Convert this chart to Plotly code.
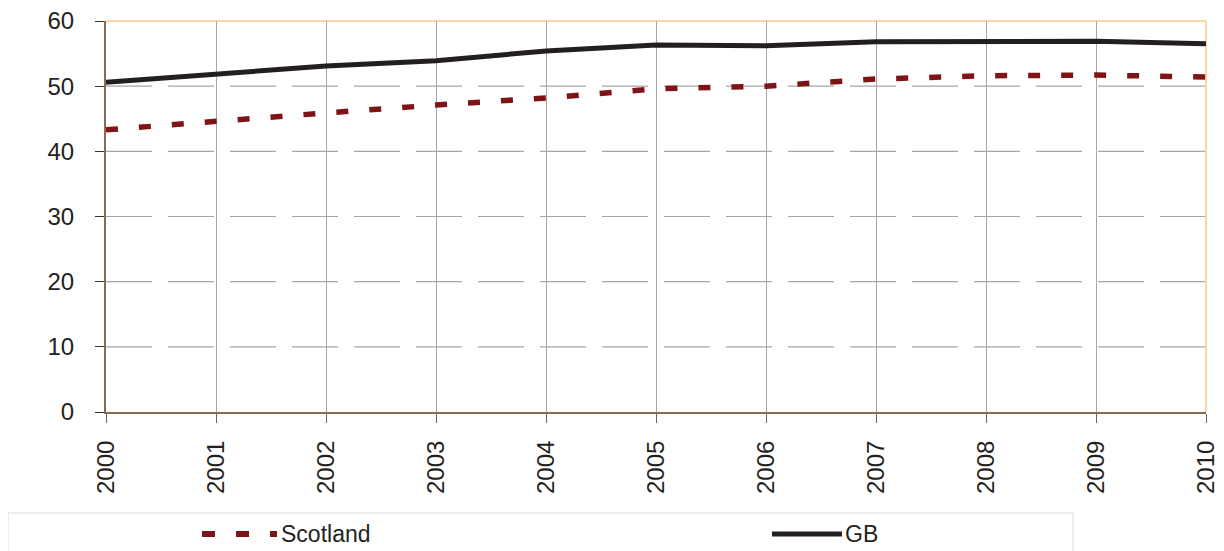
import plotly.graph_objects as go

years = [2000, 2001, 2002, 2003, 2004, 2005, 2006, 2007, 2008, 2009, 2010]
scotland = [43.3, 44.7, 45.9, 47.1, 48.2, 49.6, 50.0, 51.1, 51.6, 51.7, 51.4]
gb = [50.6, 51.9, 53.1, 53.9, 55.4, 56.3, 56.2, 56.8, 56.8, 56.9, 56.5]
y_ticks = [0, 10, 20, 30, 40, 50, 60]
series_names = ["Scotland", "GB"]

# the page body adds an 8px offset; figure coordinates = page coordinates - 8
OFF = 8
W, H = 1224 - OFF, 551 - OFF
ml, mt = 106 - OFF, 21 - OFF
mr = W - (1206 - OFF)
mb = H - (412 - OFF)
pw, ph = W - ml - mr, H - mt - mb

def px_x(p):
    return (p - OFF - ml) / pw

def px_y(p):
    return (H - mb - (p - OFF)) / ph

sc_line = dict(color="#7F1416", width=5.5, dash="12px,21px")
gb_line = dict(color="#231F20", width=5)

fig = go.Figure()
fig.add_trace(go.Scatter(x=years, y=scotland, name=series_names[0], mode="lines",
                         line=sc_line, showlegend=False))
fig.add_trace(go.Scatter(x=years, y=gb, name=series_names[1], mode="lines",
                         line=gb_line, showlegend=False))

# horizontal dashed gridlines
for v in y_ticks[1:-1]:
    fig.add_shape(type="line", xref="paper", yref="y", x0=0, x1=1, y0=v, y1=v,
                  line=dict(color="#A6A6A6", width=1.2, dash="46px,16px"), layer="below")

# orange top/right frame
fig.add_shape(type="line", xref="paper", yref="paper", x0=0, x1=1, y0=1, y1=1,
              line=dict(color="#FFD4A8", width=2), layer="below")
fig.add_shape(type="line", xref="paper", yref="paper", x0=1, x1=1, y0=0, y1=1,
              line=dict(color="#FFD4A8", width=2), layer="below")

# legend box
fig.add_shape(type="rect", xref="paper", yref="paper",
              x0=px_x(8), x1=px_x(1073), y0=px_y(513), y1=px_y(553),
              line=dict(color="#D9D9D9", width=1), fillcolor="rgba(0,0,0,0)")

# legend entries
ly = px_y(534)
fig.add_shape(type="line", xref="paper", yref="paper", x0=px_x(202), x1=px_x(277),
              y0=ly, y1=ly, line=dict(color="#7F1416", width=6, dash="13px,21px"))
fig.add_annotation(xref="paper", yref="paper", x=px_x(279), y=ly, text=series_names[0],
                   showarrow=False, xanchor="left", yanchor="middle",
                   font=dict(size=23, color="#231F20"))
fig.add_shape(type="line", xref="paper", yref="paper", x0=px_x(772), x1=px_x(842),
              y0=ly, y1=ly, line=dict(color="#231F20", width=5))
fig.add_annotation(xref="paper", yref="paper", x=px_x(843), y=ly, text=series_names[1],
                   showarrow=False, xanchor="left", yanchor="middle",
                   font=dict(size=23, color="#231F20"))

fig.update_layout(
    width=W, height=H,
    margin=dict(l=ml, r=mr, t=mt, b=mb),
    plot_bgcolor="white", paper_bgcolor="white",
    font=dict(family="Liberation Sans, Arial, sans-serif", size=24, color="#231F20"),
    showlegend=False,
    xaxis=dict(range=[2000, 2010], tickmode="array", tickvals=years,
               ticktext=[str(y) for y in years], tickangle=-90, automargin=False,
               showgrid=True, gridcolor="#A6A6A6", gridwidth=1,
               showline=True, linecolor="#8C6A4F", linewidth=2,
               ticks="outside", ticklen=9, tickcolor="#666666", zeroline=False,
               ticklabelstandoff=8, ticklabeloverflow="allow"),
    yaxis=dict(range=[0, 60], tickmode="array", tickvals=y_ticks, automargin=False,
               showgrid=False, showline=True, linecolor="#8C6A4F", linewidth=2,
               ticks="outside", ticklen=9, tickcolor="#333333", zeroline=False,
               ticklabelstandoff=16, ticklabeloverflow="allow"),
)

fig.write_html("out.html")
